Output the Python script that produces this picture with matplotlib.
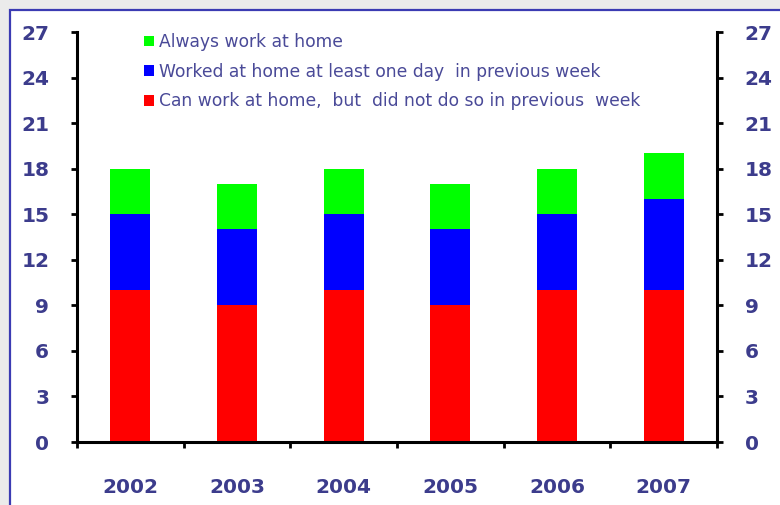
import numpy as np
import matplotlib.pyplot as plt
from matplotlib.patches import Rectangle, Patch

# people able to work from home, by year (stacked components)
years = ['2002', '2003', '2004', '2005', '2006', '2007']
can_but_did_not = [10, 9, 10, 9, 10, 10]
worked_one_day = [5, 5, 5, 5, 5, 6]
always_home = [3, 3, 3, 3, 3, 3]
y_ticks = [0, 3, 6, 9, 12, 15, 18, 21, 24, 27]

labels = ['Always work at home',
          'Worked at home at least one day  in previous week',
          'Can work at home,  but  did not do so in previous  week']
colors = ['#00ff00', '#0000ff', '#ff0000']
txt_col = '#3c3c8c'

plt.rcParams['font.family'] = ['DejaVu Sans']

fig = plt.figure(figsize=(7.8, 5.05), dpi=100, facecolor='#ebebeb')

# white panel with a blue frame
panel = Rectangle((10 / 780, -0.1), 1.2, 0.98 + 0.1, transform=fig.transFigure,
                  facecolor='white', edgecolor='#3b3bb3', linewidth=1.6, zorder=-10)
fig.patches.append(panel)

ax = fig.add_axes([77 / 780, 63 / 505, 640 / 780, 410 / 505])
ax.set_facecolor('none')

x = np.arange(len(years))
w = 0.375
red = np.array(can_but_did_not)
blue = np.array(worked_one_day)
green = np.array(always_home)
ax.bar(x, red, w, color=colors[2], zorder=2)
ax.bar(x, blue, w, bottom=red, color=colors[1], zorder=2)
ax.bar(x, green, w, bottom=red + blue, color=colors[0], zorder=2)

ax.set_xlim(-0.5, len(years) - 0.5)
ax.set_ylim(0, 27)
ax.set_yticks(y_ticks)
ax.set_xticks(x)
ax.set_xticklabels(years)
ax.set_xticks(np.arange(-0.5, len(years)), minor=True)

for s in ['left', 'right', 'bottom']:
    ax.spines[s].set_linewidth(2.2)
    ax.spines[s].set_color('black')
ax.spines['top'].set_visible(False)

ax.tick_params(axis='y', which='both', left=True, right=True, labelleft=True,
               labelright=True, direction='out', length=4, width=2,
               pad=16, labelsize=14.5, labelcolor=txt_col)
ax.tick_params(axis='x', which='major', length=0, pad=26, labelsize=14.5,
               labelcolor=txt_col)
ax.tick_params(axis='x', which='minor', length=4, width=2, direction='out')
for lab in ax.get_xticklabels() + ax.get_yticklabels():
    lab.set_fontweight('bold')
for t in ax.yaxis.get_major_ticks():
    t.label2.set_fontweight('bold')

handles = [Patch(facecolor=c, edgecolor='none') for c in colors]
leg = fig.legend(handles, labels, loc='upper left', bbox_to_anchor=(144 / 780, 1 - 33 / 505),
                 frameon=False, fontsize=12.3, handlelength=0.6, handleheight=0.6,
                 handletextpad=0.3, labelspacing=0.68, borderpad=0, borderaxespad=0)
for t in leg.get_texts():
    t.set_color('#4a4a98')

fig.savefig('out.png', dpi=100, facecolor=fig.get_facecolor())
